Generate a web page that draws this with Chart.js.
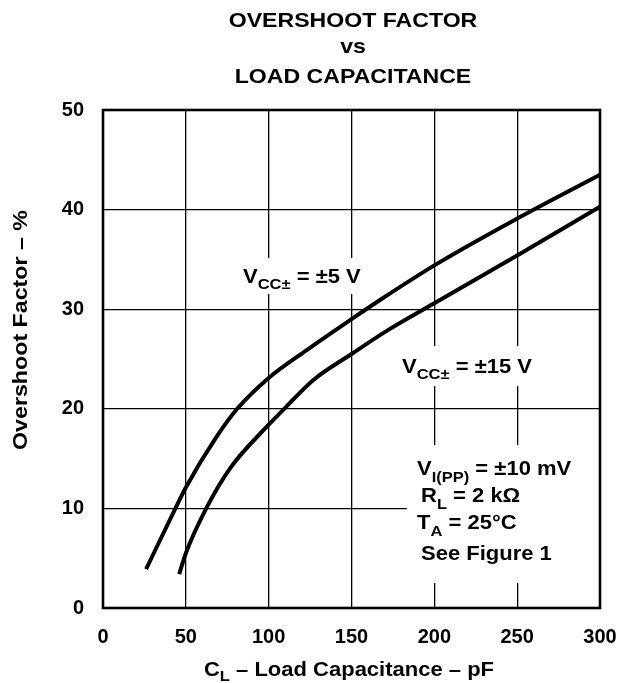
<!DOCTYPE html>
<html>
<head>
<meta charset="utf-8">
<title>Overshoot Factor vs Load Capacitance</title>
<script src="https://cdn.jsdelivr.net/npm/chart.js@4.4.1/dist/chart.umd.min.js"></script>
<style>
  html, body { margin: 0; padding: 0; background: #fff; }
  #wrap { width: 629px; height: 683px; }
</style>
</head>
<body>
<div id="wrap"><canvas id="c" width="629" height="683"></canvas></div>
<script>
// Load capacitance (pF) and overshoot factor (%) for the two supply voltages
const capacitance5 = [26, 44, 50, 68.6, 81, 100, 123, 150, 167, 200, 250, 300];
const overshoot5   = [3.9, 10.1, 12.1, 17.2, 20, 23.1, 25.9, 29.0, 30.9, 34.4, 39.1, 43.5];

const capacitance15 = [46, 50, 62, 76.6, 100, 110, 127, 150, 172, 200, 250, 300];
const overshoot15   = [3.4, 5.5, 9.9, 14.0, 18.4, 20.1, 22.9, 25.5, 27.9, 30.6, 35.4, 40.3];

// Axis ranges and tick spacing
const xRange = [0, 300];
const xStep = 50;
const yRange = [0, 50];
const yStep = 10;

const FONT = '"Liberation Sans", Arial, Helvetica, sans-serif';
const STRETCH = 1.1;

function toPoints(xs, ys) {
  return xs.map((x, i) => ({ x: x, y: ys[i] }));
}

// Draw a run of text pieces (normal / subscript) starting at x, baseline y
function drawRuns(ctx, x, y, runs, sx) {
  ctx.save();
  ctx.translate(x, y);
  ctx.scale(sx, 1);
  ctx.textAlign = 'left';
  ctx.textBaseline = 'alphabetic';
  ctx.fillStyle = '#000';
  let cx = 0;
  for (const r of runs) {
    ctx.font = 'bold ' + r.size + 'px ' + FONT;
    ctx.fillText(r.t, cx, r.dy || 0);
    cx += ctx.measureText(r.t).width;
  }
  ctx.restore();
}

function runsWidth(ctx, runs) {
  let w = 0;
  for (const r of runs) {
    ctx.font = 'bold ' + r.size + 'px ' + FONT;
    w += ctx.measureText(r.t).width;
  }
  return w;
}

const N = 20, S = 15, D = 7;

const decorations = {
  id: 'decorations',
  beforeDatasetsDraw(chart) {
    const ctx = chart.ctx;
    const a = chart.chartArea;
    ctx.save();
    ctx.fillStyle = '#fff';
    // label backgrounds that interrupt the grid
    ctx.fillRect(238, 258, 132, 36);
    ctx.fillRect(397, 346, 143, 40);
    ctx.fillRect(407, 445, a.right - 407, 138);
    ctx.restore();
  },
  afterDraw(chart) {
    const ctx = chart.ctx;
    const a = chart.chartArea;

    // heavy frame round the plot
    ctx.save();
    ctx.strokeStyle = '#000';
    ctx.lineWidth = 2.6;
    ctx.strokeRect(a.left, a.top, a.right - a.left, a.bottom - a.top);
    ctx.restore();

    // title
    ctx.save();
    ctx.fillStyle = '#000';
    ctx.textAlign = 'center';
    ctx.textBaseline = 'alphabetic';
    ctx.font = 'bold 21px ' + FONT;
    const titleLines = [['OVERSHOOT FACTOR', 27], ['vs', 53], ['LOAD CAPACITANCE', 83]];
    for (const [t, by] of titleLines) {
      ctx.save();
      ctx.translate(353, by);
      ctx.scale(STRETCH, 1);
      ctx.fillText(t, 0, 0);
      ctx.restore();
    }
    ctx.restore();

    // x-axis title
    const xTitle = [
      { t: 'C', size: N }, { t: 'L', size: S, dy: 5 },
      { t: ' \u2013 Load Capacitance \u2013 pF', size: N }
    ];
    const xw = runsWidth(ctx, xTitle) * STRETCH;
    drawRuns(ctx, 349 - xw / 2, 676, xTitle, STRETCH);

    // y-axis title
    ctx.save();
    ctx.fillStyle = '#000';
    ctx.font = 'bold ' + N + 'px ' + FONT;
    ctx.textAlign = 'center';
    ctx.textBaseline = 'alphabetic';
    ctx.translate(27, 330);
    ctx.rotate(-Math.PI / 2);
    const yt = 'Overshoot Factor \u2013 %';
    ctx.scale(240 / ctx.measureText(yt).width, 1);
    ctx.fillText(yt, 0, 0);
    ctx.restore();

    // curve labels
    drawRuns(ctx, 243, 283, [
      { t: 'V', size: N }, { t: 'CC\u00b1', size: S, dy: 6 },
      { t: ' = \u00b15 V', size: N }
    ], STRETCH);
    drawRuns(ctx, 402, 373, [
      { t: 'V', size: N }, { t: 'CC\u00b1', size: S, dy: 6 },
      { t: ' = \u00b115 V', size: N }
    ], STRETCH);

    // test conditions
    drawRuns(ctx, 417, 475, [
      { t: 'V', size: N }, { t: 'I(PP)', size: S, dy: D },
      { t: ' = \u00b110 mV', size: N }
    ], STRETCH);
    drawRuns(ctx, 421, 502, [
      { t: 'R', size: N }, { t: 'L', size: S, dy: D },
      { t: ' = 2 k\u03a9', size: N }
    ], STRETCH);
    drawRuns(ctx, 417, 529, [
      { t: 'T', size: N }, { t: 'A', size: S, dy: D },
      { t: ' = 25\u00b0C', size: N }
    ], STRETCH);
    drawRuns(ctx, 421, 560, [
      { t: 'See Figure 1', size: N }
    ], STRETCH);
  }
};

const curveStyle = {
  borderColor: '#000',
  borderWidth: 4,
  pointRadius: 0,
  fill: false,
  showLine: true,
  cubicInterpolationMode: 'monotone',
  borderCapStyle: 'butt',
  borderJoinStyle: 'round'
};

new Chart(document.getElementById('c'), {
  type: 'scatter',
  data: {
    datasets: [
      Object.assign({ label: 'VCC\u00b1 = \u00b15 V', data: toPoints(capacitance5, overshoot5) }, curveStyle),
      Object.assign({ label: 'VCC\u00b1 = \u00b115 V', data: toPoints(capacitance15, overshoot15) }, curveStyle)
    ]
  },
  options: {
    responsive: false,
    animation: false,
    devicePixelRatio: 1,
    layout: { padding: { top: 110, right: 29, left: 0, bottom: 0 } },
    plugins: {
      legend: { display: false },
      tooltip: { enabled: false },
      title: { display: false }
    },
    scales: {
      x: {
        type: 'linear',
        min: xRange[0], max: xRange[1],
        afterFit(scale) {
          scale.height = 75;
          scale.paddingLeft = 0;
          scale.paddingRight = 0;
        },
        ticks: {
          stepSize: xStep,
          padding: 17,
          color: '#000',
          font: { family: FONT, size: 20, weight: 'bold' },
          maxRotation: 0
        },
        grid: { color: '#000', lineWidth: 1.3, drawTicks: false },
        border: { display: false }
      },
      y: {
        type: 'linear',
        min: yRange[0], max: yRange[1],
        afterFit(scale) {
          scale.width = 103;
          scale.paddingTop = 0;
          scale.paddingBottom = 0;
        },
        ticks: {
          stepSize: yStep,
          padding: 19,
          color: '#000',
          font: { family: FONT, size: 20, weight: 'bold' }
        },
        grid: { color: '#000', lineWidth: 1.3, drawTicks: false },
        border: { display: false }
      }
    }
  },
  plugins: [decorations]
});
</script>
</body>
</html>
